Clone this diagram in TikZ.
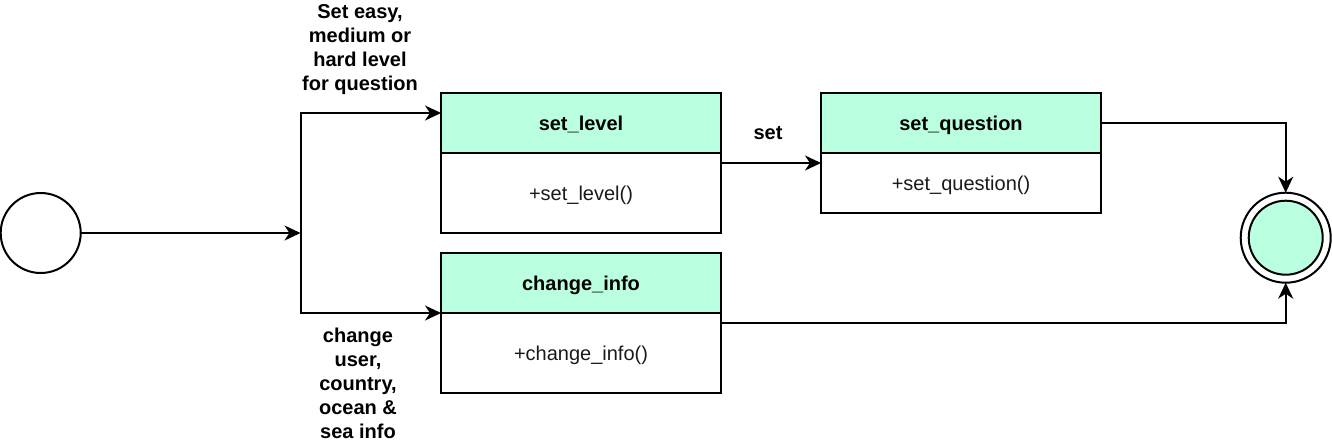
\documentclass[tikz,border=0pt]{standalone}
\usepackage{fontspec}
\setmainfont{Liberation Sans}
\usetikzlibrary{arrows.meta,calc}
\definecolor{mint}{HTML}{BAFFE0}
\definecolor{txt}{HTML}{1A1A1A}
\tikzset{
  ln/.style={line width=2pt, draw=black},
  arr/.style={ln, -{Stealth[length=16pt,width=15pt,inset=5pt]}},
  hdr/.style={ln, fill=mint, rectangle, outer sep=0pt, minimum width=280pt, minimum height=60pt, inner sep=0pt, text height=16pt, text depth=2pt, font=\fontsize{20}{24}\selectfont\bfseries},
  bdy/.style={ln, fill=white, rectangle, outer sep=0pt, minimum width=280pt, inner sep=0pt, text height=16pt, text depth=1pt, font=\fontsize{20}{24}\selectfont, text=txt},
  lbl/.style={align=center, inner sep=0pt, font=\fontsize{20}{24}\selectfont\bfseries},
}
\begin{document}
\begin{tikzpicture}[x=1pt,y=-1pt]
\useasboundingbox (0,0) rectangle (1332,442);
% start
\node[ln, circle, outer sep=0pt, minimum size=80pt, inner sep=0pt] (start) at (40.7,233) {};
\coordinate (J) at (300.5,233);
% set_level
\node[hdr, anchor=north west] (slh) at (441,93) {set\_level};
\node[bdy, minimum height=80pt, anchor=north west] (slb) at (slh.south west) {+set\_level()};
% change_info
\node[hdr, anchor=north west] (cih) at (441,253) {change\_info};
\node[bdy, minimum height=80pt, anchor=north west] (cib) at (cih.south west) {+change\_info()};
% set_question
\node[hdr, anchor=north west] (sqh) at (821,93) {set\_question};
\node[bdy, minimum height=60pt, anchor=north west] (sqb) at (sqh.south west) {+set\_question()};
% end
\node[ln, circle, outer sep=0pt, minimum size=90pt, inner sep=0pt] (end) at (1285.7,237.7) {};
\node[ln, circle, fill=mint, minimum size=74pt, inner sep=0pt] (endin) at (end.center) {};
% connectors
\draw[arr] (start.east) -- (J);
\draw[ln] ($(J)+(0,-121)$) -- ($(J)+(0,81)$);
\draw[arr] ($(J)+(0,-120)$) -- ([yshift=-20pt]slh.north west);
\draw[arr] ($(J)+(0,80)$) -- (cih.south west);
\draw[arr] ([yshift=-10pt]slb.north east) -- ([yshift=-10pt]sqb.north west);
\draw[arr] ([yshift=-30pt]sqh.north east) -| (end.north);
\draw[arr] ([yshift=-10pt]cib.north east) -| (end.south);
% labels
\node[lbl] (l1) at (360,50) {Set easy,\\medium or\\hard level\\for question};
\node[lbl] (l2) at (358,383) {change\\user,\\country,\\ocean \&\\sea info};
\node[lbl] (l3) at (768,133) {set};
\end{tikzpicture}
\end{document}
